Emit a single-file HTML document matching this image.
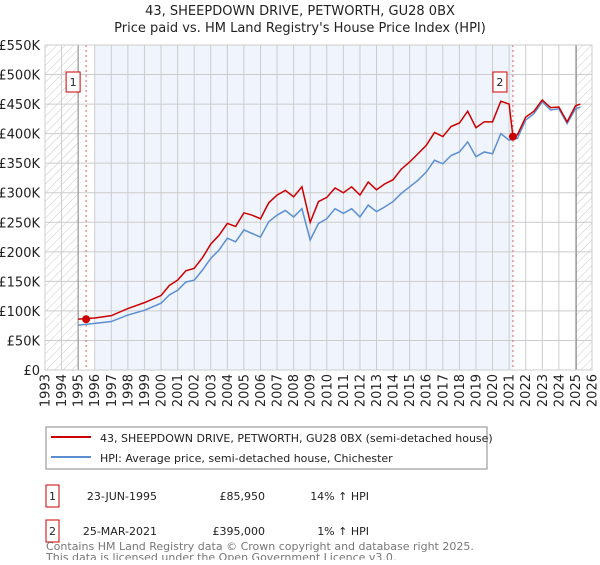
<!DOCTYPE html>
<html><head><meta charset="utf-8"><style>
body{margin:0;background:#fff;font-family:"Liberation Sans","DejaVu Sans",sans-serif;}
svg text{font-family:"DejaVu Sans","Liberation Sans",sans-serif;}
</style></head><body>
<svg id="c" width="600" height="560" viewBox="0 0 600 560" xmlns="http://www.w3.org/2000/svg">
<defs>
<pattern id="hatch" width="6" height="6" patternUnits="userSpaceOnUse" patternTransform="rotate(45)">
<line x1="0" y1="0" x2="0" y2="6" stroke="#bbb" stroke-width="0.8"/>
</pattern>
</defs>
<text x="300" y="15" text-anchor="middle" font-size="13" fill="#222">43, SHEEPDOWN DRIVE, PETWORTH, GU28 0BX</text>
<text x="300" y="32" text-anchor="middle" font-size="13" fill="#222">Price paid vs. HM Land Registry's House Price Index (HPI)</text>
<g id="plot"></g>
<g>
<rect x="46" y="427" width="441" height="42" fill="#fff" stroke="#888"/>
<line x1="51" y1="437" x2="91" y2="437" stroke="#cc0000" stroke-width="2"/>
<text x="100" y="442" font-size="11" fill="#222">43, SHEEPDOWN DRIVE, PETWORTH, GU28 0BX (semi-detached house)</text>
<line x1="51" y1="457" x2="91" y2="457" stroke="#5b8fd1" stroke-width="2"/>
<text x="100" y="462" font-size="11" fill="#222">HPI: Average price, semi-detached house, Chichester</text>
</g>
<g font-size="11" fill="#222">
<rect x="46" y="485" width="13" height="22" fill="#fff" stroke="#cc0000"/>
<text x="52.5" y="500" text-anchor="middle">1</text>
<text x="157" y="500" text-anchor="end">23-JUN-1995</text>
<text x="265" y="500" text-anchor="end">£85,950</text>
<text x="369" y="500" text-anchor="end">14% ↑ HPI</text>
<rect x="46" y="520" width="13" height="22" fill="#fff" stroke="#cc0000"/>
<text x="52.5" y="535" text-anchor="middle">2</text>
<text x="157" y="535" text-anchor="end">25-MAR-2021</text>
<text x="265" y="535" text-anchor="end">£395,000</text>
<text x="369" y="535" text-anchor="end">1% ↑ HPI</text>
</g>
<text x="46" y="550" font-size="11" fill="#777">Contains HM Land Registry data © Crown copyright and database right 2025.</text>
<text x="46" y="561" font-size="11" fill="#777">This data is licensed under the Open Government Licence v3.0.</text>
</svg>
<script>
const hpiYears=[1995,1996,1997,1998,1999,2000,2000.5,2001,2001.5,2002,2002.5,2003,2003.5,2004,2004.5,2005,2005.5,2006,2006.5,2007,2007.5,2008,2008.5,2009,2009.5,2010,2010.5,2011,2011.5,2012,2012.5,2013,2013.5,2014,2014.5,2015,2015.5,2016,2016.5,2017,2017.5,2018,2018.5,2019,2019.5,2020,2020.5,2021,2021.5,2022,2022.5,2023,2023.5,2024,2024.5,2025,2025.3];
const hpiValues=[76,79,82,93,101,113,127,135,149,152,169,189,203,223,217,237,231,225,251,262,270,259,273,220,248,256,273,265,273,259,279,268,276,285,299,310,321,335,355,349,363,369,386,361,369,366,400,389,392,423,434,454,440,442,417,442,445];
const priceYears=[1995,1996,1997,1998,1999,2000,2000.5,2001,2001.5,2002,2002.5,2003,2003.5,2004,2004.5,2005,2005.5,2006,2006.5,2007,2007.5,2008,2008.5,2009,2009.5,2010,2010.5,2011,2011.5,2012,2012.5,2013,2013.5,2014,2014.5,2015,2015.5,2016,2016.5,2017,2017.5,2018,2018.5,2019,2019.5,2020,2020.5,2021,2021.23,2021.5,2022,2022.5,2023,2023.5,2024,2024.5,2025,2025.3];
const priceValues=[86,88,92,104,114,126,143,152,168,172,190,213,228,248,243,266,262,256,283,296,304,293,310,250,285,292,308,300,310,296,318,305,315,322,340,352,366,380,402,395,412,418,438,410,420,420,455,450,395,398,428,438,457,444,445,420,447,450];
const saleYears=[1995.48,2021.23];
const saleValues=[85.95,395];
const saleLabels=["1","2"];
const yTicks=[0,50,100,150,200,250,300,350,400,450,500,550];
const yTickLabels=["£0","£50K","£100K","£150K","£200K","£250K","£300K","£350K","£400K","£450K","£500K","£550K"];
const xTicks=[];for(let y=1993;y<=2026;y++)xTicks.push(y);

const X0=45,X1=592,Y0=370,Y1=45;
const xs=y=>X0+(y-1993)/(2026-1993)*(X1-X0);
const ys=v=>Y0-v/550*(Y0-Y1);
const NS="http://www.w3.org/2000/svg";
const g=document.getElementById('plot');
function mk(t,a,p){const e=document.createElementNS(NS,t);for(const k in a)e.setAttribute(k,a[k]);(p||g).appendChild(e);return e;}

const bg=mk('rect',{x:X0,y:Y1,width:X1-X0,height:Y0-Y1,fill:'#fff'});


const sh=mk('rect',{x:xs(1996),y:Y1,width:xs(saleYears[1])-xs(1996),height:Y0-Y1,fill:'#f0f4fc'});


const h1=mk('rect',{x:X0,y:Y1,width:xs(1995)-X0,height:Y0-Y1,fill:'url(#hatch)'});


const h2=mk('rect',{x:xs(2025.05),y:Y1,width:X1-xs(2025.05),height:Y0-Y1,fill:'url(#hatch)'});



yTicks.forEach((v,i)=>{
 const l=mk('line',{x1:X0,x2:X1,y1:ys(v),y2:ys(v),stroke:'#ccc','stroke-width':1});
 
 
 const t=mk('text',{x:40,y:ys(v)+5,'text-anchor':'end','font-size':13,fill:'#222'});
 t.textContent=yTickLabels[i];
 
 
});
xTicks.forEach(y=>{
 const l=mk('line',{x1:xs(y),x2:xs(y),y1:Y1,y2:Y0,stroke:'#ccc','stroke-width':1});
 
 
 const t=mk('text',{x:xs(y)+4.5,y:374,'text-anchor':'end','font-size':13,fill:'#222',transform:`rotate(-90 ${xs(y)+4.5} 374)`});
 t.textContent=y;
 
 
});
const v1=mk('line',{x1:xs(1995),x2:xs(1995),y1:Y1,y2:Y0,stroke:'#888'});


const v2=mk('line',{x1:xs(2025.05),x2:xs(2025.05),y1:Y1,y2:Y0,stroke:'#888'});



saleYears.forEach((y,i)=>{
 const l=mk('line',{x1:xs(y),x2:xs(y),y1:Y1,y2:Y0,stroke:'#e06060','stroke-dasharray':'2,3'});
 
 
});

const hp=mk('polyline',{points:hpiYears.map((y,i)=>xs(y)+','+ys(hpiValues[i])).join(' '),fill:'none',stroke:'#5b8fd1','stroke-width':1.5});


const pp=mk('polyline',{points:priceYears.map((y,i)=>xs(y)+','+ys(priceValues[i])).join(' '),fill:'none',stroke:'#cc0000','stroke-width':1.5});



saleYears.forEach((y,i)=>{
 const d=mk('circle',{cx:xs(y),cy:ys(saleValues[i]),r:4,fill:'#cc0000'});
 
 
 const bx=xs(y)-7-13;
 const r=mk('rect',{x:bx,y:72,width:14,height:20,fill:'#fff',stroke:'#cc0000'});
 
 
 const t=mk('text',{x:bx+7,y:86,'text-anchor':'middle','font-size':11,fill:'#222'});
 t.textContent=saleLabels[i];
 
 
});
const fr=mk('rect',{x:X0,y:Y1,width:X1-X0,height:Y0-Y1,fill:'none',stroke:'#ccc'});


</script>
</body></html>
